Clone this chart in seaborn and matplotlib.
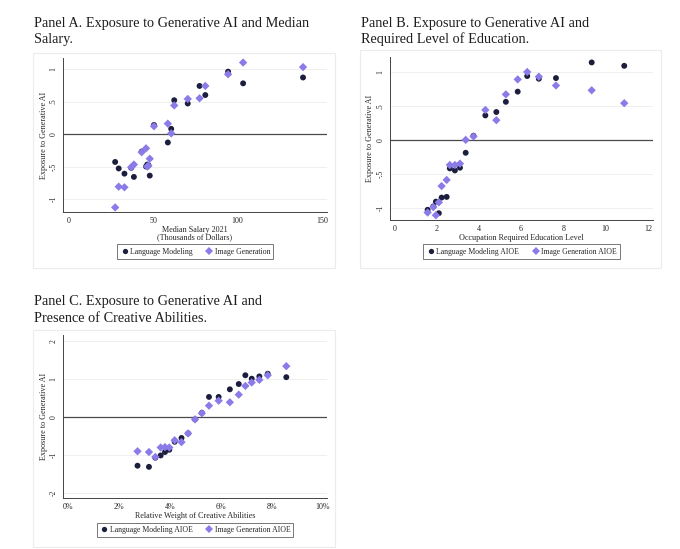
import matplotlib
matplotlib.use("Agg")
import matplotlib.pyplot as plt
import seaborn as sns
import pandas as pd
from matplotlib.patches import Rectangle
from matplotlib.ticker import FuncFormatter

# ---------------- data ----------------
salary = [27.5, 29.6, 33.0, 37.0, 38.6, 43.2, 45.8, 46.5, 47.2, 48.0,
          50.5, 58.7, 60.7, 62.5, 70.5, 77.5, 80.9, 94.4, 103.3, 138.8]
lm_salary = [-0.43, -0.53, -0.61, -0.52, -0.66, -0.27, -0.50, -0.47, -0.48, -0.64,
             0.14, -0.13, 0.08, 0.52, 0.47, 0.74, 0.60, 0.96, 0.78, 0.87]
ig_salary = [-1.13, -0.81, -0.82, -0.51, -0.47, -0.28, -0.22, -0.50, -0.49, -0.38,
             0.12, 0.16, 0.01, 0.44, 0.54, 0.55, 0.74, 0.92, 1.10, 1.03]

education = [1.58, 1.85, 1.97, 2.11, 2.24, 2.48, 2.63, 2.87, 3.11, 3.38,
             3.75, 4.31, 4.83, 5.28, 5.84, 6.29, 6.84, 7.65, 9.34, 10.88]
lm_education = [-1.03, -0.98, -0.91, -1.08, -0.85, -0.84, -0.42, -0.45, -0.41, -0.19,
                0.06, 0.36, 0.41, 0.56, 0.71, 0.94, 0.90, 0.91, 1.14, 1.09]
ig_education = [-1.07, -0.99, -1.11, -0.92, -0.68, -0.59, -0.37, -0.37, -0.35, 0.00,
                0.05, 0.44, 0.29, 0.67, 0.89, 1.00, 0.93, 0.80, 0.73, 0.54]

creative = [2.73, 3.18, 3.43, 3.64, 3.81, 3.98, 4.19, 4.46, 4.72, 4.99,
            5.26, 5.54, 5.92, 6.36, 6.71, 6.97, 7.22, 7.52, 7.85, 8.58]
lm_creative = [-1.29, -1.32, -1.08, -1.02, -0.93, -0.87, -0.66, -0.56, -0.44, -0.07,
               0.10, 0.52, 0.52, 0.72, 0.86, 1.09, 1.00, 1.06, 1.13, 1.04]
ig_creative = [-0.91, -0.93, -1.06, -0.81, -0.80, -0.81, -0.62, -0.67, -0.44, -0.07,
               0.09, 0.29, 0.42, 0.38, 0.58, 0.81, 0.90, 0.97, 1.09, 1.33]

titles = [["Panel A. Exposure to Generative AI and Median", "Salary."],
          ["Panel B. Exposure to Generative AI and", "Required Level of Education."],
          ["Panel C. Exposure to Generative AI and", "Presence of Creative Abilities."]]
xlabels = ["Median Salary 2021\n(Thousands of Dollars)",
           "Occupation Required Education Level",
           "Relative Weight of Creative Abilities"]
ylabel = "Exposure to Generative AI"
legend_a = ["Language Modeling", "Image Generation"]
legend_bc = ["Language Modeling AIOE", "Image Generation AIOE"]

yticks_a = [-1, -0.5, 0, 0.5, 1]
ytick_labels_a = ["-1", "-.5", "0", ".5", "1"]
xticks_a = [0, 50, 100, 150]
xticks_b = [0, 2, 4, 6, 8, 10, 12]
yticks_c = [-2, -1, 0, 1, 2]
ytick_labels_c = ["-2", "-1", "0", "1", "2"]
xticks_c = [0, 2, 4, 6, 8, 10]

# ---------------- style ----------------
sns.set_style("white")
plt.rcParams["font.family"] = ["Liberation Serif", "DejaVu Serif"]

DARK = "#1b1e3d"
PURPLE = "#8a7be8"
W, H = 680, 549
fig = plt.figure(figsize=(W / 100, H / 100), dpi=100)
fig.patch.set_facecolor("white")


def fr(x0, y0, x1, y1):
    """pixel box (top-left origin) -> figure fraction rect"""
    return [x0 / W, 1 - y1 / H, (x1 - x0) / W, (y1 - y0) / H]


def frame(x0, y0, x1, y1):
    fig.patches.append(Rectangle((x0 / W, 1 - y1 / H), (x1 - x0) / W, (y1 - y0) / H,
                                 transform=fig.transFigure, facecolor="none",
                                 edgecolor="#ececec", linewidth=0.8, zorder=0))


def title(x, y, lines):
    for i, line in enumerate(lines):
        fig.text(x / W, 1 - (y + 16.5 * i) / H, line, fontsize=10.3, va="baseline",
                 ha="left", color="#1e1e1e")


def panel(rect, x, lm, ig, legend_labels, xlab, xlim, ylim, xticks, yticks, ytl,
          legend_center, xfmt=None, ylab_pad=1.0, xlab_pad=1.0):
    ax = fig.add_axes(rect)
    ax.set_facecolor("none")
    df = pd.DataFrame({"x": list(x) * 2, "y": list(lm) + list(ig),
                       "series": [legend_labels[0]] * len(x) + [legend_labels[1]] * len(x)})
    sns.scatterplot(data=df, x="x", y="y", hue="series", style="series",
                    markers={legend_labels[0]: "o", legend_labels[1]: "D"},
                    palette={legend_labels[0]: DARK, legend_labels[1]: PURPLE},
                    size="series", sizes={legend_labels[0]: 18, legend_labels[1]: 18},
                    edgecolor="none", linewidth=0, ax=ax, zorder=3, legend=True)
    ax.set_xlim(*xlim)
    ax.set_ylim(*ylim)
    for t in yticks:
        if t == 0:
            ax.axhline(0, color="#4a4a4a", lw=0.9, zorder=2)
        else:
            ax.axhline(t, color="#ececec", lw=0.6, zorder=1)
    ax.set_yticks(yticks)
    ax.set_yticklabels(ytl, rotation=90, va="center", fontsize=5.5)
    ax.set_xticks(xticks)
    if xfmt is not None:
        ax.xaxis.set_major_formatter(xfmt)
    ax.tick_params(axis="x", labelsize=5.8, length=2.5, width=0.6, pad=1.0, color="#333333")
    ax.tick_params(axis="y", length=2.5, width=0.6, pad=1.5, color="#333333")
    for s in ["top", "right"]:
        ax.spines[s].set_visible(False)
    for s in ["left", "bottom"]:
        ax.spines[s].set_color("#444444")
        ax.spines[s].set_linewidth(0.7)
    ax.set_xlabel(xlab, fontsize=5.9, labelpad=xlab_pad, linespacing=0.95)
    ax.set_ylabel(ylabel, fontsize=5.9, labelpad=ylab_pad)
    handles, labels = ax.get_legend_handles_labels()
    keep = [(h, l) for h, l in zip(handles, labels) if l in legend_labels]
    ax.legend([h for h, _ in keep], [l for _, l in keep], loc="center",
              bbox_to_anchor=legend_center, bbox_transform=fig.transFigure,
              ncol=2, frameon=True, fancybox=False, edgecolor="#555555",
              fontsize=5.6, handletextpad=0.1, columnspacing=1.5, borderpad=0.4,
              handlelength=1.2, markerscale=0.9)
    ax.get_legend().get_frame().set_linewidth(0.7)
    return ax


# frames
frame(33, 53, 335, 268)
frame(360, 50, 661, 268)
frame(33, 330, 335, 547)

# titles
title(34, 27, titles[0])
title(361, 27, titles[1])
title(34, 305, titles[2])

panel(fr(63, 58, 327, 212), salary, lm_salary, ig_salary, legend_a, xlabels[0],
      (-3.4, 153), (-1.2, 1.17), xticks_a, yticks_a, ytick_labels_a,
      (195 / W, 1 - 251.5 / H), xlab_pad=0.5)

panel(fr(390, 57, 653, 220), education, lm_education, ig_education, legend_bc, xlabels[1],
      (-0.2, 12.24), (-1.18, 1.22), xticks_b, yticks_a, ytick_labels_a,
      (521.5 / W, 1 - 251.5 / H), ylab_pad=2.0)

panel(fr(63, 335, 327, 498), creative, lm_creative, ig_creative, legend_bc, xlabels[2],
      (-0.2, 10.18), (-2.14, 2.15), xticks_c, yticks_c, ytick_labels_c,
      (195 / W, 1 - 530 / H), xfmt=FuncFormatter(lambda v, p: f"{v:.0f}%"))

fig.savefig("out.png", dpi=100, facecolor="white")
